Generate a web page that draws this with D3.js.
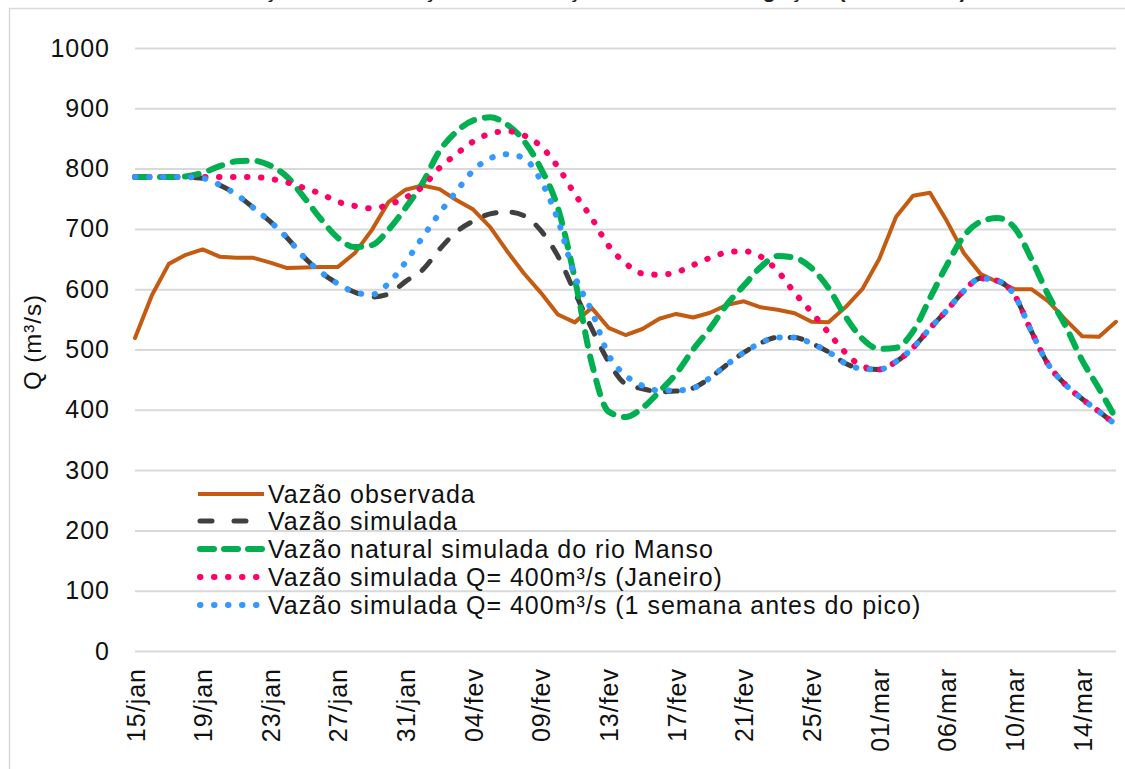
<!DOCTYPE html>
<html>
<head>
<meta charset="utf-8">
<script src="https://cdn.jsdelivr.net/npm/d3@7"></script>
<style>
  body { margin: 0; background: #fff; }
  svg { display: block; font-family: "Liberation Sans", Arial, sans-serif; }
</style>
</head>
<body>
<svg id="chart" width="1125" height="769"></svg>
<script>
// daily categories (some days are missing in the source series)
const categories = [
  "15/jan","16/jan","17/jan","18/jan","19/jan","20/jan","21/jan","22/jan","23/jan","24/jan",
  "25/jan","26/jan","27/jan","28/jan","29/jan","30/jan","31/jan","01/fev","02/fev","03/fev",
  "04/fev","05/fev","06/fev","08/fev","09/fev","10/fev","11/fev","12/fev","13/fev","14/fev",
  "15/fev","16/fev","17/fev","18/fev","19/fev","20/fev","21/fev","22/fev","23/fev","24/fev",
  "25/fev","26/fev","27/fev","28/fev","01/mar","02/mar","03/mar","05/mar","06/mar","07/mar",
  "08/mar","09/mar","10/mar","11/mar","12/mar","13/mar","14/mar","15/mar","16/mar"
];

const observada = [519,590,642,657,666,654,652,652,644,635,636,637,637,660,698,745,765,772,766,748,
  732,703,663,626,594,558,545,569,536,524,534,551,559,553,561,574,580,570,566,560,
  546,545,570,600,650,720,755,760,713,660,625,612,600,600,580,550,522,521,546];

const simulada = [786,786,786,786,784,773,757,735,712,685,653,628,609,595,587,592,613,632,666,695,
  713,725,728,722,697,655,595,535,480,443,435,430,431,436,453,475,495,511,520,520,
  510,496,477,468,467,480,503,535,565,597,618,614,590,530,475,442,418,397,375];

const naturalManso = [786,786,786,787,793,804,812,813,805,786,752,716,685,670,673,699,735,776,829,861,
  880,885,873,846,800,735,618,478,397,388,403,430,460,500,535,575,606,637,655,652,
  635,602,555,518,501,503,530,585,640,688,712,718,702,650,590,540,482,435,385];

const janeiro = [786,786,786,786,786,786,786,786,783,777,768,758,745,738,734,740,752,770,801,824,
  845,858,862,855,837,803,758,718,672,643,626,624,628,640,652,661,663,654,630,594,
  562,528,495,472,467,480,503,535,565,597,618,614,590,530,475,442,418,397,375];

const semanaAntes = [786,786,786,786,784,773,757,735,712,685,653,628,609,595,591,610,645,686,726,762,
  797,817,824,817,780,715,622,564,491,457,440,432,432,436,453,475,495,511,520,520,
  510,496,477,468,467,480,503,535,565,597,618,614,590,530,475,442,418,397,375];

const yTicks = [0,100,200,300,400,500,600,700,800,900,1000];
const xTickLabels = categories.filter((d, i) => i % 4 === 0);

const seriesNames = [
  "Vazão observada",
  "Vazão simulada",
  "Vazão natural simulada do rio Manso",
  "Vazão simulada Q= 400m³/s (Janeiro)",
  "Vazão simulada Q= 400m³/s (1 semana antes do pico)"
];

const svg = d3.select("#chart");

const plotLeft = 135, plotRight = 1116, plotTop = 48, plotBottom = 651;

// outer frame of the figure
svg.append("rect")
  .attr("x", 9.5).attr("y", 8.5)
  .attr("width", 1200).attr("height", 800)
  .attr("fill", "none").attr("stroke", "#d9d9d9").attr("stroke-width", 1.5);

// title (cut off at the top of the picture, as in the source image)
svg.append("text")
  .attr("x", 186).attr("y", -3)
  .attr("font-size", 22).attr("font-weight", "bold")
  .attr("letter-spacing", 1)
  .attr("fill", "#222")
  .text("Simulação da atenuação e laminação sobre a navegação (2017/2018)");

const x = d3.scalePoint().domain(categories).range([plotLeft, plotRight]);
const y = d3.scaleLinear().domain([0, 1000]).range([plotBottom, plotTop]);

// y axis + gridlines
const yAxis = svg.append("g")
  .attr("transform", "translate(" + plotLeft + ",0)")
  .call(d3.axisLeft(y).tickValues(yTicks).tickFormat(d3.format("d"))
    .tickSize(-(plotRight - plotLeft)).tickPadding(25));
yAxis.select(".domain").remove();
yAxis.selectAll(".tick line").attr("stroke", "#d9d9d9").attr("stroke-width", 2);
yAxis.selectAll(".tick text")
  .attr("font-size", 25).attr("fill", "#111")
  .attr("letter-spacing", 1)
  .style("font-family", "Liberation Sans, Arial, sans-serif");

// x axis labels
const xAxis = svg.append("g")
  .attr("transform", "translate(0," + plotBottom + ")")
  .call(d3.axisBottom(x).tickValues(xTickLabels).tickSize(0));
xAxis.select(".domain").remove();
xAxis.selectAll(".tick text")
  .attr("font-size", 25).attr("fill", "#111")
  .attr("letter-spacing", 1)
  .style("font-family", "Liberation Sans, Arial, sans-serif")
  .attr("text-anchor", "end")
  .attr("dy", null)
  .attr("dominant-baseline", "central")
  .attr("transform", "translate(0,17) rotate(-90)")
  .attr("y", 0).attr("x", 0);

// y axis title
svg.append("text")
  .attr("transform", "translate(32,342) rotate(-90)")
  .attr("text-anchor", "middle")
  .attr("dominant-baseline", "central")
  .attr("font-size", 24).attr("fill", "#111")
  .attr("letter-spacing", 1)
  .text("Q (m³/s)");

const styles = [
  { color: "#c55a11", width: 4, dash: null, cap: "round", curve: d3.curveLinear },
  { color: "#404040", width: 5, dash: "12,16", cap: "round", curve: d3.curveMonotoneX },
  { color: "#00b050", width: 6, dash: "14,11", cap: "round", curve: d3.curveMonotoneX },
  { color: "#ff0066", width: 6, dash: "0.5,13.5", cap: "round", curve: d3.curveMonotoneX },
  { color: "#3399ff", width: 6, dash: "0.5,13.5", cap: "round", curve: d3.curveMonotoneX }
];

const allSeries = [observada, simulada, naturalManso, janeiro, semanaAntes];

allSeries.forEach((vals, k) => {
  const st = styles[k];
  const line = d3.line()
    .x((d, i) => x(categories[i]))
    .y(d => y(d))
    .curve(st.curve);
  svg.append("path")
    .datum(vals)
    .attr("d", line)
    .attr("fill", "none")
    .attr("stroke", st.color)
    .attr("stroke-width", st.width)
    .attr("stroke-linecap", st.cap)
    .attr("stroke-linejoin", "round")
    .attr("stroke-dasharray", st.dash);
});

// legend
const legendY = [494, 521, 549, 577, 605];
const legend = svg.append("g");
seriesNames.forEach((name, k) => {
  const st = styles[k];
  const g = legend.append("g").attr("transform", "translate(0," + legendY[k] + ")");
  g.append("line")
    .attr("x1", k === 0 ? 198 : 200).attr("x2", k === 0 ? 264 : 262)
    .attr("y1", 0).attr("y2", 0)
    .attr("stroke", st.color)
    .attr("stroke-width", st.width)
    .attr("stroke-linecap", k === 0 ? "butt" : st.cap)
    .attr("stroke-dasharray", k === 1 ? "12,22" : (k === 2 ? "14,10" : st.dash));
  g.append("text")
    .attr("x", 268).attr("y", 0)
    .attr("dominant-baseline", "central")
    .attr("font-size", 25).attr("fill", "#111")
    .attr("letter-spacing", 1)
    .text(name);
});
</script>
</body>
</html>
